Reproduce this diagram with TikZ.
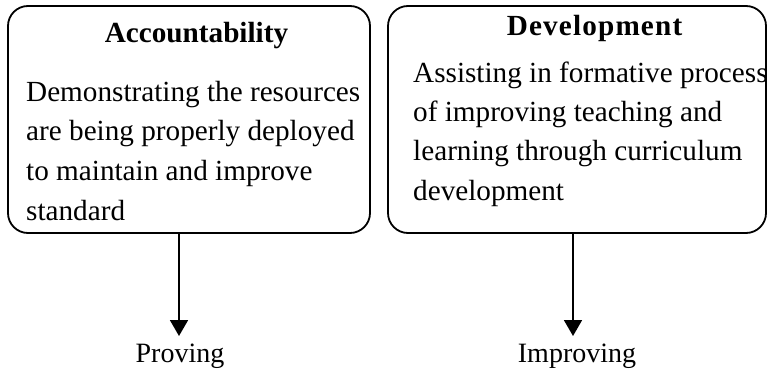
\documentclass[tikz,border=0pt]{standalone}
\usepackage{fontspec}
\setmainfont{Liberation Serif}
\usetikzlibrary{arrows.meta}
\begin{document}
\begin{tikzpicture}[x=1pt,y=-1pt,
  box/.style={draw, line width=1.8pt, rounded corners=20pt, inner sep=0pt},
  title/.style={font=\fontsize{29.2}{31}\selectfont\bfseries, anchor=base, inner sep=0pt},
  body/.style={font=\fontsize{29.2}{31}\selectfont, anchor=base west, inner sep=0pt},
  lbl/.style={font=\fontsize{28}{30}\selectfont, anchor=base, inner sep=0pt},
  conn/.style={line width=1.8pt, -{Triangle[width=18pt,length=16pt]}}]
\useasboundingbox (0,0) rectangle (770,372);
\draw[box] (8,6) rectangle (370,233);
\node[box, draw=none, minimum width=362pt, minimum height=227pt] (acc) at (189,119.5) {};
\draw[box] (388,6) rectangle (766,233);
\node[box, draw=none, minimum width=378pt, minimum height=227pt] (dev) at (577,119.5) {};
\node[title] (acct) at (196.5,42) {Accountability};
\node[title] (devt) at (594.5,35) {\addfontfeatures{LetterSpace=4}Development};
\node[body] (a1) at (26,101) {Demonstrating the resources};
\node[body] (a2) at (26,140) {are being properly deployed};
\node[body] (a3) at (26,180) {to maintain and improve};
\node[body] (a4) at (26,220) {standard};
\node[body] (d1) at (413,82) {Assisting in formative process};
\node[body] (d2) at (413,121) {of improving teaching and};
\node[body] (d3) at (413,160) {learning through curriculum};
\node[body] (d4) at (413,200) {development};
\coordinate (ptip) at (179,336);
\coordinate (itip) at (573,336);
\node[lbl] (prov) at (180,362) {Proving};
\node[lbl] (impr) at (577,362) {Improving};
\draw[conn] (ptip |- acc.south) -- (ptip);
\draw[conn] (itip |- dev.south) -- (itip);
\end{tikzpicture}
\end{document}
